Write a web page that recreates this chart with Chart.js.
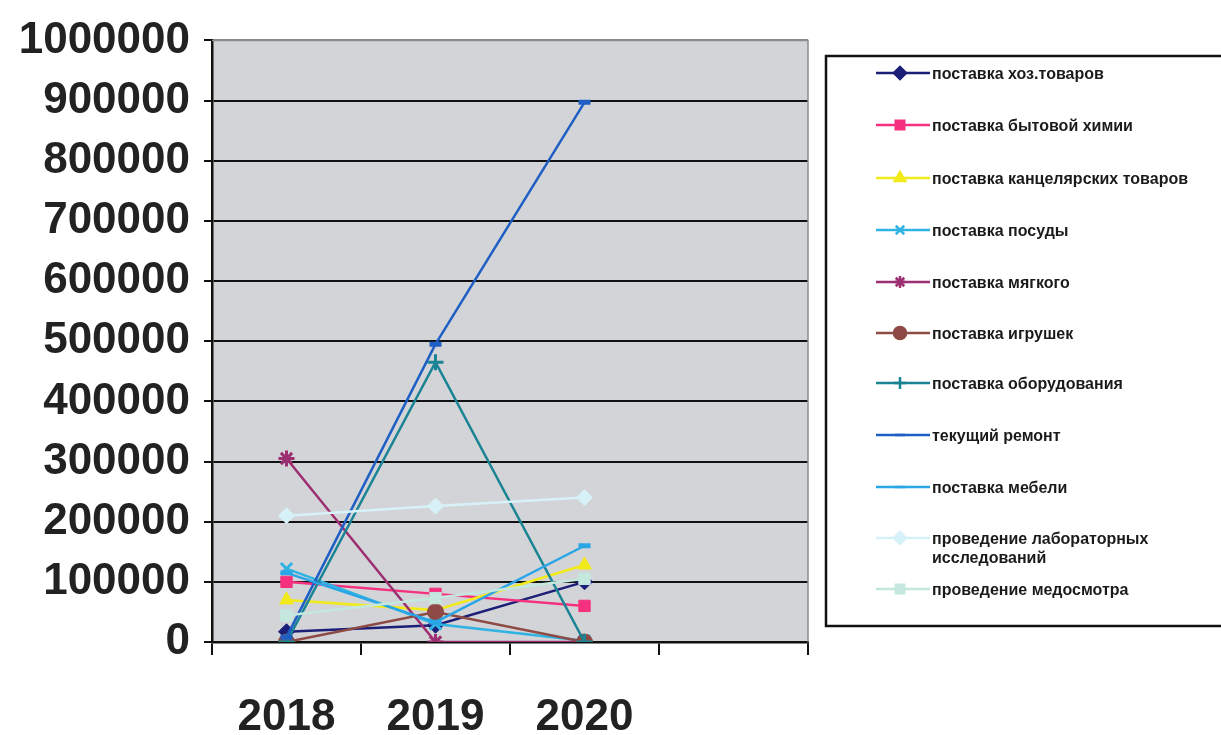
<!DOCTYPE html>
<html>
<head>
<meta charset="utf-8">
<script src="https://cdn.jsdelivr.net/npm/chart.js@4/dist/chart.umd.min.js"></script>
<style>
  html, body { margin: 0; padding: 0; background: #fff; }
  #wrap { width: 1221px; height: 735px; }
</style>
</head>
<body>
<div id="wrap"><canvas id="myChart" width="1221" height="735"></canvas></div>
<script>
// years on the category axis (the 4th slot is empty in the original)
const years = ['2018', '2019', '2020', ''];

const seriesNames = [
  'поставка хоз.товаров',
  'поставка бытовой химии',
  'поставка канцелярских товаров',
  'поставка посуды',
  'поставка мягкого',
  'поставка игрушек',
  'поставка оборудования',
  'текущий ремонт',
  'поставка мебели',
  ['проведение лабораторных', 'исследований'],
  'проведение медосмотра'
];

const hozTovary    = [17000, 28000, 100000];
const bytHimiya    = [100000, 80000, 60000];
const kantselyaria = [70000, 53000, 128000];
const posuda       = [122000, 30000, 2000];
const myagkoe      = [305000, 0, 0];
const igrushki     = [0, 50000, 0];
const oborudovanie = [0, 465000, 0];
const remont       = [8000, 495000, 897000];
const mebel        = [115000, 33000, 160000];
const laboratoria  = [210000, 226000, 240000];
const medosmotr    = [44000, 73000, 105000];

const yTicks = [0, 100000, 200000, 300000, 400000, 500000, 600000, 700000, 800000, 900000, 1000000];

const seriesValues = [hozTovary, bytHimiya, kantselyaria, posuda, myagkoe, igrushki,
                      oborudovanie, remont, mebel, laboratoria, medosmotr];
const seriesColors = ['#1b1f78', '#f5307e', '#f2ea1a', '#2fb3e3', '#9c2f72', '#8e4a44',
                      '#1a8494', '#1f5fc4', '#2aa6e6', '#d6f2f8', '#c4e8de'];
const seriesMarkers = ['rectRot', 'rect', 'triangle', 'crossRot', 'star', 'circle',
                       'cross', 'line', 'line', 'rectRot', 'rect'];

const datasets = seriesValues.map((vals, i) => ({
  label: seriesNames[i],
  data: vals,
  borderColor: seriesColors[i],
  backgroundColor: seriesColors[i],
  pointBackgroundColor: seriesColors[i],
  pointBorderColor: seriesColors[i],
  pointStyle: seriesMarkers[i],
  pointRadius: seriesMarkers[i] === 'line' ? 6 : 8,
  pointBorderWidth: seriesMarkers[i] === 'line' ? 5 : (seriesMarkers[i].startsWith('cross') || seriesMarkers[i] === 'star' ? 3 : 1),
  borderWidth: 2.5,
  tension: 0,
  fill: false,
  order: seriesValues.length - i
}));

// grey plot area + grey top/right frame
const plotBg = {
  id: 'plotBg',
  beforeDraw(chart) {
    const { ctx, chartArea: a } = chart;
    ctx.save();
    ctx.fillStyle = '#d3d4d7';
    ctx.fillRect(a.left, a.top, a.right - a.left, a.bottom - a.top);
    ctx.restore();
  },
  afterDatasetsDraw(chart) {
    const { ctx, chartArea: a } = chart;
    ctx.save();
    ctx.strokeStyle = '#8c8c8c';
    ctx.lineWidth = 1.5;
    ctx.beginPath();
    ctx.moveTo(a.left, a.top);
    ctx.lineTo(a.right, a.top);
    ctx.lineTo(a.right, a.bottom);
    ctx.stroke();
    ctx.restore();
  }
};

// boxed legend on the right, drawn from the datasets
const boxLegend = {
  id: 'boxLegend',
  afterDraw(chart) {
    const { ctx } = chart;
    const left = 826, top = 56, bottom = 626;
    ctx.save();
    ctx.fillStyle = '#fff';
    ctx.fillRect(left, top, 420, bottom - top);
    ctx.strokeStyle = '#111';
    ctx.lineWidth = 2.5;
    ctx.strokeRect(left, top, 420, bottom - top);
    const ys = [73, 125, 178, 230, 282, 333, 383, 435, 487, 538, 589];
    chart.data.datasets.forEach((ds, i) => {
      const y = ys[i];
      ctx.strokeStyle = ds.borderColor;
      ctx.lineWidth = 2.5;
      ctx.beginPath();
      ctx.moveTo(876, y);
      ctx.lineTo(930, y);
      ctx.stroke();
      ctx.fillStyle = ds.backgroundColor;
      Chart.helpers.drawPoint(ctx, {
        pointStyle: ds.pointStyle,
        radius: ds.pointStyle === 'line' ? 5 : 6,
        rotation: 0,
        borderWidth: ds.pointBorderWidth
      }, 900, y);
      ctx.fillStyle = '#1a1a1a';
      ctx.font = 'bold 16px "Liberation Sans", Arial, sans-serif';
      ctx.textBaseline = 'middle';
      ctx.textAlign = 'left';
      const lines = Array.isArray(ds.label) ? ds.label : [ds.label];
      lines.forEach((t, k) => ctx.fillText(t, 932, y + 2 + k * 19));
    });
    ctx.restore();
  }
};

new Chart(document.getElementById('myChart').getContext('2d'), {
  type: 'line',
  data: { labels: years, datasets },
  options: {
    responsive: false,
    animation: false,
    layout: { padding: { top: 38, right: 413, bottom: 0, left: 0 } },
    plugins: { legend: { display: false }, tooltip: { enabled: false } },
    scales: {
      x: {
        type: 'category',
        offset: true,
        afterFit(scale) { scale.height = 93; },
        grid: { offset: true, drawOnChartArea: false, drawTicks: true, tickLength: 13, color: '#111', lineWidth: 2 },
        border: { color: '#111', width: 2.5 },
        ticks: {
          color: '#222',
          padding: 36,
          maxRotation: 0,
          font: { family: '"Liberation Sans Narrow", "Liberation Sans", Arial, sans-serif', size: 44, weight: 'bold' }
        }
      },
      y: {
        min: 0,
        max: 1000000,
        afterFit(scale) { scale.width = 212; },
        afterBuildTicks(scale) { scale.ticks = yTicks.map(v => ({ value: v })); },
        grid: {
          color: ctx => (ctx.tick && ctx.tick.value === 1000000) ? '#8c8c8c' : '#111',
          lineWidth: 2,
          tickLength: 8,
          tickColor: '#111'
        },
        border: { color: '#111', width: 2.5 },
        ticks: {
          color: '#222',
          padding: 14,
          callback: v => String(v),
          font: { family: '"Liberation Sans", Arial, sans-serif', size: 44, weight: 'bold' }
        }
      }
    }
  },
  plugins: [plotBg, boxLegend]
});
</script>
</body>
</html>
